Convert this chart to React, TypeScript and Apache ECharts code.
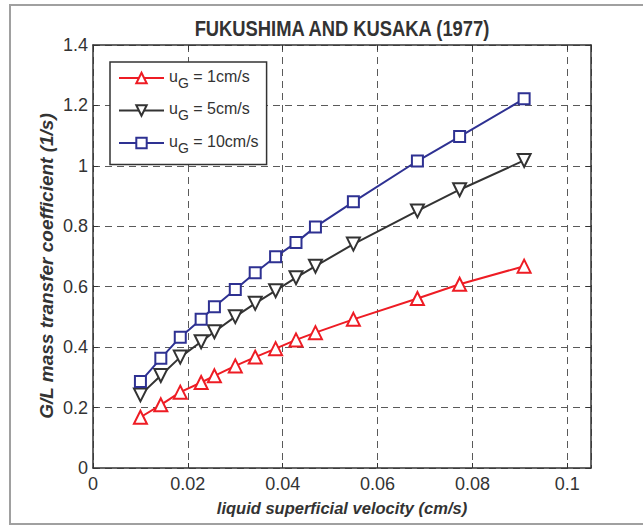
import React, { useEffect, useRef } from "react";
import * as echarts from "echarts";

// Liquid superficial velocity (cm/s)
const velocity = [
  0.01, 0.0143, 0.0184, 0.0228, 0.0256, 0.03, 0.0342, 0.0385, 0.0428, 0.0469,
  0.0549, 0.0684, 0.0773, 0.0909,
];

// G/L mass transfer coefficient (1/s) for each gas velocity
const kLa1 = [
  0.168, 0.209, 0.251, 0.283, 0.305, 0.338, 0.367, 0.395, 0.424, 0.448, 0.492,
  0.561, 0.608, 0.668,
];
const kLa5 = [
  0.242, 0.306, 0.367, 0.418, 0.451, 0.501, 0.545, 0.587, 0.63, 0.668, 0.741,
  0.851, 0.921, 1.018,
];
const kLa10 = [
  0.286, 0.363, 0.433, 0.492, 0.534, 0.591, 0.646, 0.699, 0.746, 0.798, 0.881,
  1.016, 1.097, 1.222,
];

const seriesNames = ["1cm/s", "5cm/s", "10cm/s"];
const seriesColors = ["#ee1c24", "#333333", "#2e3192"];

const FONT = "'Liberation Sans', Arial, sans-serif";
const TEXT = "#333333";

export default function App() {
  const ref = useRef<HTMLDivElement>(null);

  useEffect(() => {
    document.body.style.margin = "0";
    if (!ref.current) return;
    const chart = echarts.init(ref.current, null, { renderer: "svg" });

    const pairs = (ys: number[]) => velocity.map((x, i) => [x, ys[i]]);
    const gridLine = {
      show: true,
      lineStyle: { color: "#5a5a5a", type: [7, 5] as number[], width: 1 },
    };
    const frameAxisLine = {
      show: true,
      onZero: false,
      lineStyle: { color: TEXT, width: 1.5 },
    };
    const innerTick = { show: true, inside: true, length: 5, lineStyle: { color: TEXT } };

    const mk = (
      idx: number,
      ys: number[],
      symbol: string,
      rotate: number,
      size: number
    ) => ({
      name: seriesNames[idx],
      type: "line" as const,
      data: pairs(ys),
      symbol,
      symbolSize: size,
      symbolRotate: rotate,
      showAllSymbol: true,
      lineStyle: { color: seriesColors[idx], width: 2 },
      itemStyle: { color: seriesColors[idx], borderColor: seriesColors[idx], borderWidth: 2 },
      z: 3 + idx,
    });

    chart.setOption({
      animation: false,
      backgroundColor: "#ffffff",
      graphic: [
        {
          type: "rect",
          shape: { x: 10, y: 5, width: 700, height: 519 },
          style: { fill: "none", stroke: "#a0a0a0", lineWidth: 2 },
          silent: true,
        },
        {
          // narrow bold heading centred over the plot
          type: "text",
          x: 342,
          y: 28,
          scaleX: 0.835,
          style: {
            text: "FUKUSHIMA AND KUSAKA (1977)",
            x: 0,
            y: 0,
            textAlign: "center",
            textVerticalAlign: "middle",
            fontFamily: FONT,
            fontWeight: "bold",
            fontSize: 22,
            fill: TEXT,
          },
          silent: true,
        },
        {
          // vertical y-axis title
          type: "text",
          x: 46,
          y: 266,
          rotation: Math.PI / 2,
          style: {
            text: "G/L mass transfer coefficient (1/s)",
            x: 0,
            y: 0,
            textAlign: "center",
            textVerticalAlign: "middle",
            fontFamily: FONT,
            fontWeight: "bold",
            fontStyle: "italic",
            fontSize: 19,
            fill: TEXT,
          },
          silent: true,
        },
      ],
      legend: {
        left: 110,
        top: 62,
        orient: "vertical",
        itemWidth: 45,
        itemHeight: 13,
        itemGap: 11,
        padding: [6, 8, 10, 8],
        backgroundColor: "#ffffff",
        borderColor: TEXT,
        borderWidth: 1.5,
        borderRadius: 0,
        data: seriesNames,
        formatter: (name: string) => `{u|u}{g|G}{t| = ${name}}`,
        textStyle: {
          rich: {
            u: { fontFamily: FONT, fontSize: 16, color: TEXT, padding: [0, 0, 4, 0] },
            g: { fontFamily: FONT, fontSize: 14, color: TEXT, padding: [9, 0, 0, 0] },
            t: { fontFamily: FONT, fontSize: 16, color: TEXT, padding: [0, 0, 4, 0] },
          },
        },
      },
      grid: { left: 93, right: 52, top: 45, bottom: 58, show: false },
      xAxis: [
        {
          type: "value",
          min: 0,
          max: 0.105,
          interval: 0.02,
          name: "liquid superficial velocity (cm/s)",
          nameLocation: "middle",
          nameGap: 31,
          nameTextStyle: {
            fontFamily: FONT,
            fontWeight: "bold",
            fontStyle: "italic",
            fontSize: 16.5,
            color: TEXT,
          },
          axisLine: frameAxisLine,
          axisTick: innerTick,
          axisLabel: {
            showMaxLabel: false,
            margin: 7,
            fontFamily: FONT,
            fontSize: 18,
            color: TEXT,
            formatter: (v: number) => String(+v.toFixed(3)),
          },
          splitLine: gridLine,
        },
        {
          type: "value",
          position: "top",
          min: 0,
          max: 0.105,
          interval: 0.02,
          axisLine: frameAxisLine,
          axisTick: innerTick,
          axisLabel: { show: false },
          splitLine: { show: false },
        },
      ],
      yAxis: [
        {
          type: "value",
          min: 0,
          max: 1.4,
          interval: 0.2,
          axisLine: frameAxisLine,
          axisTick: innerTick,
          axisLabel: {
            margin: 5,
            fontFamily: FONT,
            fontSize: 18,
            color: TEXT,
            formatter: (v: number) => String(+v.toFixed(2)),
          },
          splitLine: gridLine,
        },
        {
          type: "value",
          position: "right",
          min: 0,
          max: 1.4,
          interval: 0.2,
          axisLine: frameAxisLine,
          axisTick: innerTick,
          axisLabel: { show: false },
          splitLine: { show: false },
        },
      ],
      series: [
        mk(0, kLa1, "emptyTriangle", 0, 13),
        mk(1, kLa5, "emptyTriangle", 180, 13),
        mk(2, kLa10, "emptyRect", 0, 11),
      ],
    });

    return () => chart.dispose();
  }, []);

  return <div ref={ref} style={{ width: 643, height: 526 }} />;
}
